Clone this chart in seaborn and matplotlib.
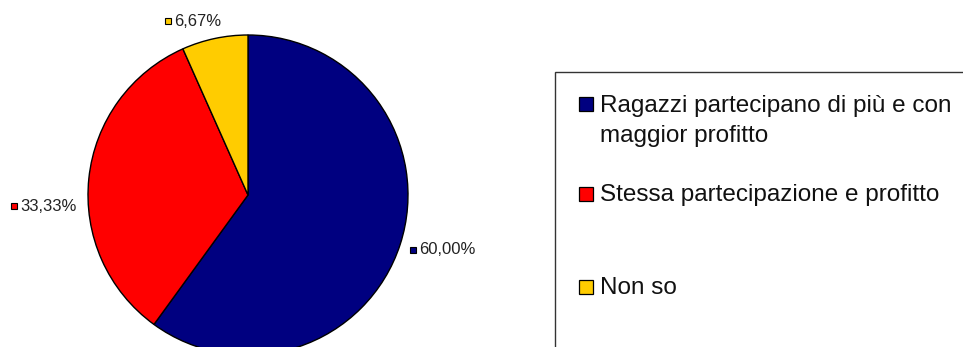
import matplotlib
matplotlib.use("Agg")
import matplotlib.pyplot as plt
from matplotlib.patches import Rectangle
import seaborn as sns

categories = ["Ragazzi partecipano di più e con\nmaggior profitto",
              "Stessa partecipazione e profitto",
              "Non so"]
values = [60.00, 33.33, 6.67]
value_labels = ["60,00%", "33,33%", "6,67%"]
colors = ["#000080", "#FF0000", "#FFCC00"]

sns.set_theme(style="white")
plt.rcParams["font.family"] = ["Liberation Sans", "DejaVu Sans"]

W, H = 963, 347
fig = plt.figure(figsize=(W / 100, H / 100), dpi=100)
ax = fig.add_axes([0, 0, 1, 1])

cx, cy, r = 248, H - 195, 160
wedges, _ = ax.pie(values, colors=colors, startangle=90, counterclock=False,
                   center=(cx, cy), radius=r, frame=True,
                   wedgeprops=dict(edgecolor="black", linewidth=1.0))
ax.set_xlim(0, W)
ax.set_ylim(0, H)
ax.set_aspect("equal")
ax.axis("off")

# value labels with small colour keys beside the pie
label_pos = [(413, H - 250), (14, H - 206), (168, H - 21)]
for (x, y), txt, col in zip(label_pos, value_labels, colors):
    ax.plot([x], [y], marker="s", markersize=4.6, markerfacecolor=col,
            markeredgecolor="black", markeredgewidth=0.8, linestyle="none")
    ax.text(x + 6, y, txt, fontsize=12, va="center", ha="left", color="#222222")

# legend box and entries
ax.add_patch(Rectangle((555, H - 400), 600, 328, facecolor="none",
                       edgecolor="#333333", linewidth=1.0, clip_on=False))
marker_y = [104, 194, 287]
baselines = [112, 201, 294]
for my, by, txt, col in zip(marker_y, baselines, categories, colors):
    ax.plot([586], [H - my], marker="s", markersize=10, markerfacecolor=col,
            markeredgecolor="black", markeredgewidth=0.9, linestyle="none")
    for k, line in enumerate(txt.split("\n")):
        ax.text(600, H - by - 30 * k, line, fontsize=17.5, va="baseline",
                ha="left", color="#111111")

fig.savefig("out.png", dpi=100)
